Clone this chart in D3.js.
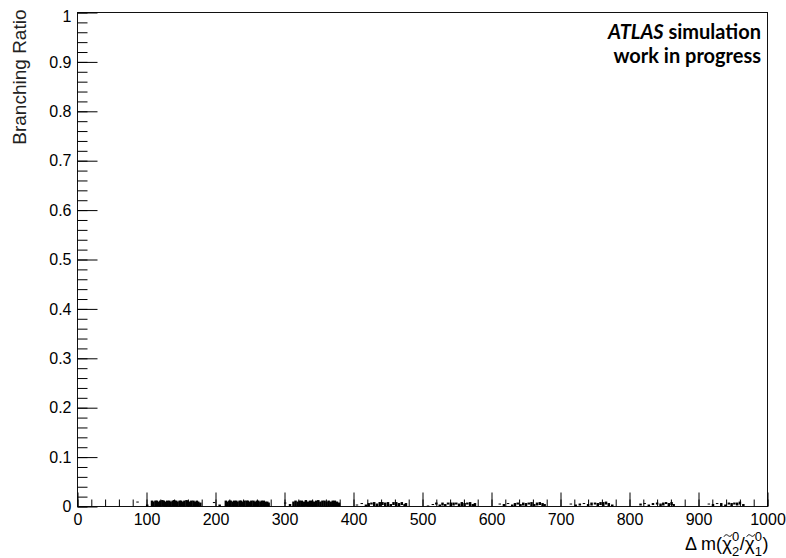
<!DOCTYPE html>
<html>
<head>
<meta charset="utf-8">
<script src="https://cdn.jsdelivr.net/npm/d3@7/dist/d3.min.js"></script>
<style>
  body { margin: 0; background: #fff; }
  svg { display: block; }
</style>
</head>
<body>
<svg id="chart" width="786" height="558"></svg>
<script>
// Mass splitting Δm (GeV) of each simulated sample point
const deltaM = [
  87, 101, 108, 110, 113, 115, 118, 120, 123, 125, 128, 130, 133, 135, 138, 140, 143, 145, 148, 150, 153, 155, 158, 160, 163, 165, 168, 170, 173, 175, 178,
  198, 206, 215, 217, 220, 222, 225, 227, 230, 232, 235, 237, 240, 242, 245, 247, 250, 252, 255, 257, 260, 262, 265, 267, 270, 272, 275, 277,
  301, 308, 313, 316, 319, 322, 325, 328, 331, 334, 337, 340, 343, 346, 349, 352, 355, 358, 361, 364, 367, 370, 373, 376, 379,
  405, 412, 418, 422, 426, 430, 434, 438, 442, 446, 450, 454, 458, 462, 466, 470, 474, 476,
  508, 515, 520, 525, 529, 533, 537, 541, 545, 549, 553, 557, 561, 565, 569, 573, 576,
  612, 618, 624, 630, 634, 638, 642, 646, 650, 654, 658, 662, 666, 670, 674, 677,
  715, 722, 728, 734, 740, 745, 750, 754, 758, 762, 766, 770, 775,
  816, 822, 828, 834, 840, 845, 849, 853, 857, 861, 864,
  915, 921, 927, 933, 939, 944, 948, 952, 956, 960, 965
];

// Branching ratio at each point
const branching = [
  .009, .002, .006, .005, .006, .006, .005, .006, .007, .006, .005, .006, .006, .005, .006, .007, .006, .005, .006, .006, .005, .006, .007, .006, .005, .006, .006, .005, .006, .005, .004,
  .008, .002, .006, .005, .006, .006, .005, .006, .006, .005, .006, .006, .005, .006, .006, .006, .005, .006, .006, .005, .006, .006, .005, .006, .006, .005, .005, .004,
  .007, .003, .005, .006, .005, .006, .006, .005, .007, .005, .006, .006, .005, .006, .007, .005, .006, .006, .005, .006, .005, .006, .006, .005, .004,
  .003, .006, .002, .004, .006, .005, .003, .005, .006, .004, .005, .003, .006, .005, .004, .006, .003, .004,
  .001, .004, .006, .002, .005, .003, .006, .004, .005, .006, .003, .005, .004, .006, .005, .003, .004,
  .005, .003, .006, .002, .004, .006, .003, .005, .004, .006, .005, .003, .005, .006, .004, .003,
  .005, .002, .004, .006, .003, .005, .006, .004, .006, .005, .007, .004, .002,
  .004, .006, .002, .005, .006, .003, .005, .007, .004, .006, .003,
  .005, .003, .006, .004, .002, .006, .004, .006, .005, .007, .003
];

// Statistical uncertainty on each branching ratio
const branchingErr = [
  .001, .002, .006, .005, .006, .006, .005, .006, .006, .006, .005, .006, .006, .005, .006, .006, .006, .005, .006, .006, .005, .006, .006, .006, .005, .006, .006, .005, .006, .005, .004,
  .001, .002, .006, .005, .006, .006, .005, .006, .006, .005, .006, .006, .005, .006, .006, .006, .005, .006, .006, .005, .006, .006, .005, .006, .006, .005, .005, .004,
  .001, .002, .005, .006, .005, .006, .006, .005, .006, .005, .006, .006, .005, .006, .006, .005, .006, .006, .005, .006, .005, .006, .006, .005, .004,
  .001, .001, .002, .003, .002, .004, .003, .004, .003, .004, .004, .002, .003, .004, .003, .003, .002, .003,
  .001, .001, .002, .002, .003, .002, .002, .004, .003, .002, .003, .004, .003, .002, .004, .002, .003,
  .001, .002, .001, .002, .003, .002, .002, .003, .003, .002, .004, .002, .003, .003, .003, .002,
  .001, .002, .002, .001, .002, .003, .002, .003, .003, .004, .003, .003, .002,
  .002, .001, .002, .002, .002, .003, .003, .002, .003, .003, .002,
  .001, .002, .001, .003, .002, .002, .003, .002, .003, .003, .002
];

const xTickValues = [0, 100, 200, 300, 400, 500, 600, 700, 800, 900, 1000];
const yTickValues = [0, 0.1, 0.2, 0.3, 0.4, 0.5, 0.6, 0.7, 0.8, 0.9, 1];
const yTitle = "Branching Ratio";
const labelLines = ["simulation", "work in progress"];
const labelExperiment = "ATLAS";

const frame = { left: 77.5, right: 767.5, top: 12.5, bottom: 506.5 };
const tickFont = "'Liberation Sans', Arial, Helvetica, sans-serif";

const svg = d3.select("#chart");

const x = d3.scaleLinear().domain([0, 1000]).range([frame.left, frame.right]);
const y = d3.scaleLinear().domain([0, 1]).range([frame.bottom, frame.top]);

// Frame
svg.append("rect")
  .attr("x", frame.left).attr("y", frame.top)
  .attr("width", frame.right - frame.left).attr("height", frame.bottom - frame.top)
  .attr("fill", "none").attr("stroke", "#111").attr("stroke-width", 1);

// Minor ticks (secondary divisions)
const xMinor = d3.range(0, 1000.001, 20);
const yMinor = d3.range(0, 1.0001, 0.02);

svg.append("g")
  .attr("transform", `translate(0,${frame.bottom})`)
  .call(d3.axisBottom(x).tickValues(xMinor).tickSize(-7).tickFormat(""))
  .call(g => g.select(".domain").remove());

svg.append("g")
  .attr("transform", `translate(${frame.left},0)`)
  .call(d3.axisLeft(y).tickValues(yMinor).tickSize(-10).tickFormat(""))
  .call(g => g.select(".domain").remove());

// Major ticks with labels
const xAxis = svg.append("g")
  .attr("transform", `translate(0,${frame.bottom})`)
  .call(d3.axisBottom(x).tickValues(xTickValues).tickSize(-14).tickPadding(7).tickFormat(d3.format("d")));
xAxis.select(".domain").remove();
xAxis.selectAll("text")
  .style("font-family", tickFont).style("font-size", "16px").attr("fill", "#000");

const yAxis = svg.append("g")
  .attr("transform", `translate(${frame.left},0)`)
  .call(d3.axisLeft(y).tickValues(yTickValues).tickSize(-20).tickPadding(6).tickFormat(d => d3.format("~g")(d)));
yAxis.select(".domain").remove();
yAxis.selectAll("text")
  .style("font-family", tickFont).style("font-size", "16px").attr("fill", "#000");
// keep the top label inside the frame height
yAxis.selectAll(".tick text").filter(d => d === 1).attr("dy", "0.55em");

svg.selectAll(".tick line").attr("stroke", "#000").attr("stroke-width", 1);

// Data points: error boxes spanning the sample bin width
const halfBin = 1.8;
svg.append("g").attr("class", "points")
  .selectAll("rect")
  .data(deltaM.map((m, i) => ({ m, b: branching[i], e: branchingErr[i] })))
  .join("rect")
    .attr("x", d => x(d.m - halfBin))
    .attr("width", d => x(d.m + halfBin) - x(d.m - halfBin))
    .attr("y", d => y(d.b + d.e))
    .attr("height", d => Math.max(1, y(d.b - d.e) - y(d.b + d.e)))
    .attr("fill", "#000");

// Y axis title
svg.append("text")
  .attr("transform", `translate(26,${frame.top - 3}) rotate(-90)`)
  .attr("text-anchor", "end")
  .style("font-family", tickFont).style("font-size", "19px").attr("fill", "#222")
  .text(yTitle);

// X axis title: Δ m(χ̃2^0/χ̃1^0), right aligned to the frame
const xt = svg.append("g");
const base = 550;
let cx = 0;
function piece(str, size, dy) {
  const t = xt.append("text")
    .attr("x", cx).attr("y", base + dy)
    .style("font-family", tickFont).style("font-size", size + "px").attr("fill", "#000")
    .text(str);
  return t.node().getComputedTextLength();
}
function chi(sup, sub) {
  const w = piece("χ", 19, 0);
  // tilde accent over the chi
  const tx = cx + w / 2 + 1, ty = base - 14.5;
  xt.append("path")
    .attr("d", `M${tx - 4},${ty + 1.2} C${tx - 2.5},${ty - 1.6} ${tx - 1},${ty - 0.8} ${tx},${ty} S${tx + 2.5},${ty + 1.8} ${tx + 4},${ty - 1.2}`)
    .attr("fill", "none").attr("stroke", "#000").attr("stroke-width", 1);
  cx += w;
  const w1 = piece(sup, 13, -9);
  const w2 = piece(sub, 13, 6);
  cx += Math.max(w1, w2) + 0.5;
}
cx += piece("Δ m(", 18, 0);
chi("0", "2");
cx += piece("/", 18, 0);
chi("0", "1");
cx += piece(")", 18, 0);
xt.attr("transform", `translate(${frame.right + 1 - cx},0)`);

// Experiment label
const labelFont = "Lato, 'Open Sans', sans-serif";
const lab = svg.append("text")
  .attr("x", 761).attr("y", 39)
  .attr("text-anchor", "end")
  .style("font-family", labelFont)
  .attr("font-weight", "bold").style("font-size", "20px").attr("fill", "#000");
lab.append("tspan").attr("font-style", "italic").text(labelExperiment);
lab.append("tspan").text(" " + labelLines[0]);

svg.append("text")
  .attr("x", 761).attr("y", 63)
  .attr("text-anchor", "end")
  .style("font-family", labelFont)
  .attr("font-weight", "bold").style("font-size", "20px").attr("fill", "#000")
  .text(labelLines[1]);
</script>
</body>
</html>
